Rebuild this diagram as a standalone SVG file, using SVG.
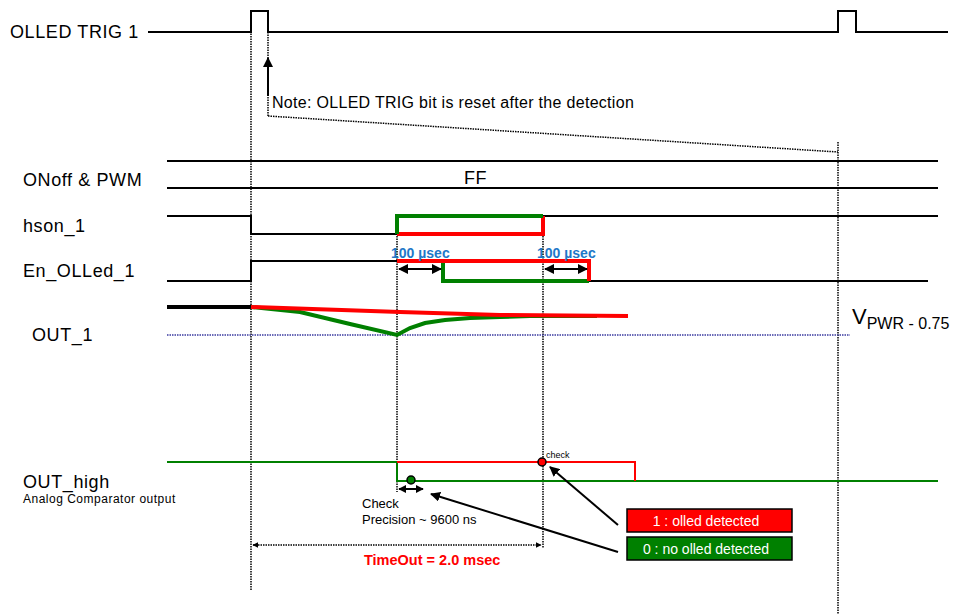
<svg xmlns="http://www.w3.org/2000/svg" width="958" height="614" viewBox="0 0 958 614">
<style>
.lbl{font-family:"Liberation Sans",Arial,sans-serif;font-size:18px;letter-spacing:0.6px;fill:#000}
.sig{fill:none;stroke:#000;stroke-width:2}
.dot{fill:none;stroke:#000;stroke-width:1.5;stroke-dasharray:1.5 1}
.red{fill:none;stroke:#ff0000;stroke-width:4}
.grn{fill:none;stroke:#008000;stroke-width:4}
.blu{font-family:"Liberation Sans",Arial,sans-serif;font-size:14px;font-weight:bold;fill:#1e78c8}
.arr{fill:none;stroke:#000;stroke-width:2}
.sm{font-family:"Liberation Sans",Arial,sans-serif}
</style>
<defs>
<marker id="ah" viewBox="0 0 10 10" refX="9" refY="5" markerWidth="5" markerHeight="5" orient="auto-start-reverse"><path d="M0,0 L10,5 L0,10 z" fill="#000"/></marker>
<marker id="ahs" viewBox="0 0 10 10" refX="9" refY="5" markerWidth="4" markerHeight="4" orient="auto-start-reverse"><path d="M0,0 L10,5 L0,10 z" fill="#000"/></marker>
</defs>
<rect width="958" height="614" fill="#fff"/>

<g id="labels">
<text class="lbl" x="10" y="38">OLLED TRIG 1</text>
<text class="lbl" x="23" y="186">ONoff &amp; PWM</text>
<text class="lbl" x="464" y="184">FF</text>
<text class="lbl" x="23" y="232">hson_1</text>
<text class="lbl" x="23" y="277">En_OLLed_1</text>
<text class="lbl" x="32" y="341">OUT_1</text>
<text class="lbl" x="23" y="488">OUT_high</text>
<text class="sm" x="23" y="503" font-size="12" letter-spacing="0.5">Analog Comparator output</text>
<text class="sm" x="852" y="324" font-size="22">V<tspan font-size="16" dy="5">PWR - 0.75</tspan></text>
<text class="sm" x="272" y="108" font-size="16" letter-spacing="0.3">Note: OLLED TRIG bit is reset after the detection</text>
</g>

<g id="guides">
<line class="dot" x1="251" y1="11" x2="251" y2="590"/>
<line class="dot" x1="268" y1="32" x2="268" y2="116"/>
<line class="dot" x1="268" y1="116" x2="838" y2="152" stroke-width="2"/>
<line class="dot" x1="838" y1="142" x2="838" y2="614"/>
<line class="dot" x1="397" y1="216" x2="397" y2="492"/>
<line class="dot" x1="543" y1="216" x2="543" y2="548"/>
<line x1="167" y1="335" x2="850" y2="335" stroke="#3a3aa0" stroke-width="1.5" stroke-dasharray="1.5 1"/>
</g>

<g id="olled_trig">
<polyline class="sig" points="148,32 251,32 251,11 268,11 268,32 838,32 838,11 856,11 856,32 948,32"/>
<line class="arr" x1="268" y1="96" x2="268" y2="58" marker-end="url(#ah)" stroke-width="3"/>
</g>

<g id="onoff">
<line class="sig" x1="167" y1="161" x2="938" y2="161"/>
<line class="sig" x1="167" y1="188" x2="938" y2="188"/>
</g>

<g id="hson">
<polyline class="sig" points="167,216 251,216 251,234 397,234"/>
<line class="sig" x1="543" y1="216" x2="938" y2="216"/>
<polyline class="red" points="397,234 543,234 543,216"/>
<polyline class="grn" points="397,234 397,216 543,216"/>
</g>

<g id="en_olled">
<polyline class="sig" points="167,281 251,281 251,261 397,261"/>
<line class="sig" x1="589" y1="281" x2="928" y2="281"/>
<polyline class="grn" points="443,261 443,281 589,281"/>
<polyline class="red" points="397,261 589,261 589,281"/>
<text class="blu" x="391" y="258">100 µsec</text>
<text class="blu" x="537" y="258">100 µsec</text>
<line class="arr" x1="399" y1="269" x2="441" y2="269" marker-start="url(#ah)" marker-end="url(#ah)"/>
<line class="arr" x1="545" y1="269" x2="587" y2="269" marker-start="url(#ah)" marker-end="url(#ah)"/>
</g>

<g id="out1">
<line x1="167" y1="307" x2="251" y2="307" stroke="#000" stroke-width="4"/>
<polyline class="grn" points="251,307 300,312 350,324 397,335 410,328 425,323 445,320 470,318 500,317 530,316 597,316"/>
<polyline class="red" points="251,307 400,312 500,315 628,316"/>
</g>

<g id="out_high">
<polyline fill="none" stroke="#008000" stroke-width="2" points="167,462 397,462 397,481 938,481"/>
<polyline fill="none" stroke="#ff0000" stroke-width="2" points="397,462 635,462 635,481"/>
<circle cx="542" cy="462" r="4" fill="#ff0000" stroke="#000" stroke-width="1.5"/>
<circle cx="411" cy="480" r="4" fill="#008000" stroke="#000" stroke-width="1.5"/>
<text class="sm" x="546" y="458" font-size="9">check</text>
<line class="arr" x1="399" y1="489" x2="423" y2="489" marker-start="url(#ahs)" marker-end="url(#ahs)"/>
<text class="sm" x="362" y="508" font-size="13">Check</text>
<text class="sm" x="362" y="524" font-size="13">Precision ~ 9600 ns</text>
</g>

<g id="connectors">
<line class="arr" x1="618" y1="525" x2="550" y2="467" marker-end="url(#ah)"/>
<line class="arr" x1="618" y1="552" x2="431" y2="494" marker-end="url(#ah)"/>
<line x1="253" y1="545" x2="541" y2="545" stroke="#000" stroke-width="1.5" stroke-dasharray="1.5 1" marker-start="url(#ahs)" marker-end="url(#ahs)"/>
</g>

<g id="legend_red">
<rect x="627" y="509" width="165" height="23" fill="#ff0000" stroke="#000" stroke-width="1.5"/>
<text class="sm" x="706" y="526" text-anchor="middle" font-size="14" fill="#fff">1 : olled detected</text>
</g>
<g id="legend_green">
<rect x="627" y="537" width="165" height="23" fill="#008000" stroke="#000" stroke-width="1.5"/>
<text class="sm" x="706" y="554" text-anchor="middle" font-size="14" fill="#fff">0 : no olled detected</text>
</g>
<g id="timeout">
<text class="sm" x="364" y="565" font-size="14.5" font-weight="bold" fill="#ff0000">TimeOut = 2.0 msec</text>
</g>
</svg>
